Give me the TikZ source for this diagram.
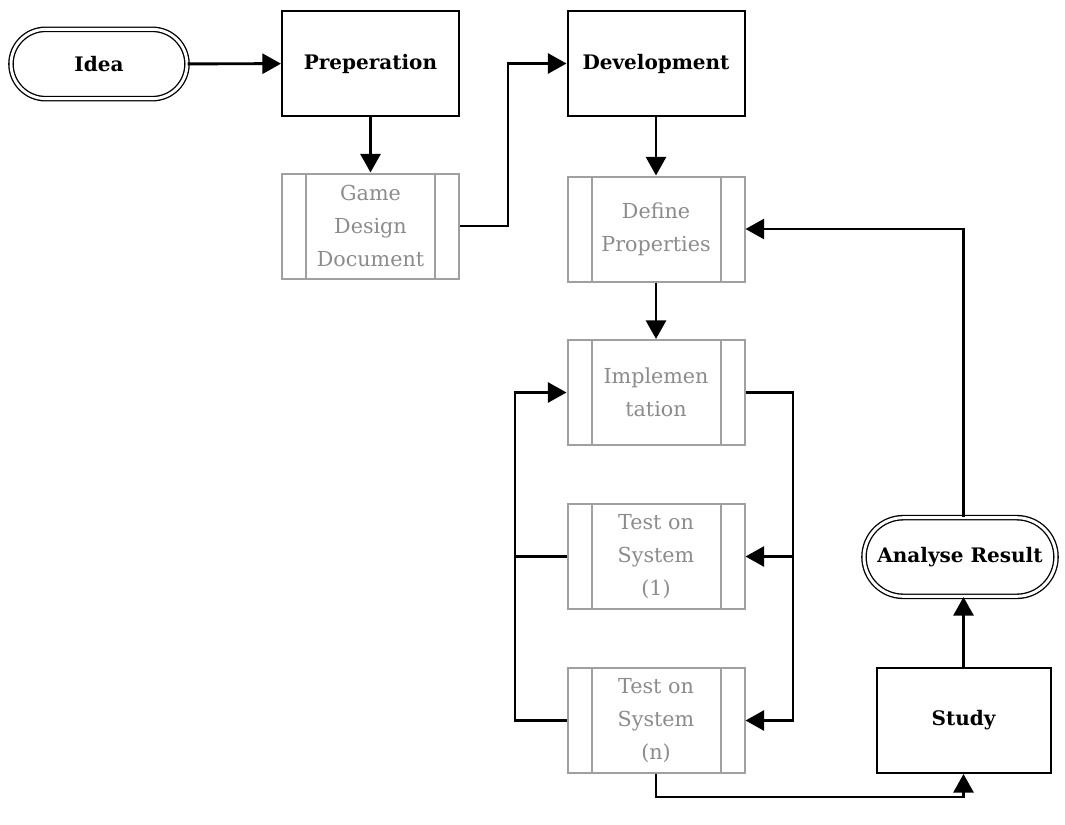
\documentclass[tikz,border=0pt]{standalone}
\usepackage{fontspec}
\setmainfont{DejaVu Serif}
\usetikzlibrary{arrows.meta,shapes.misc}
\definecolor{boxgray}{HTML}{A0A0A0}
\definecolor{textgray}{HTML}{8C8C8C}
\tikzset{
  base/.style={align=center, inner sep=0pt},
  procbox/.style={base, rectangle, draw=black, line width=1.5pt,
    minimum width=132.75pt, minimum height=78.75pt, font=\fontsize{15pt}{25pt}\selectfont\bfseries},
  subproc/.style={base, rectangle, draw=boxgray, line width=1.5pt, text=textgray,
    minimum width=132.75pt, minimum height=78.75pt, font=\fontsize{15.5pt}{25pt}\selectfont,
    path picture={
      \draw[boxgray, line width=1.5pt]
        ([xshift=18pt]path picture bounding box.north west) -- ([xshift=18pt]path picture bounding box.south west)
        ([xshift=-18pt]path picture bounding box.north east) -- ([xshift=-18pt]path picture bounding box.south east);
    }},
  terminal/.style={base, rounded rectangle, draw=black, line width=1pt, double=white, double distance=2.2pt,
    font=\fontsize{15pt}{25pt}\selectfont\bfseries},
  flow/.style={line width=2.2pt, -{Triangle[length=14pt,width=15pt]}},
  line/.style={line width=2.2pt},
}
\begin{document}
\begin{tikzpicture}[x=0.75pt,y=-0.75pt]
\useasboundingbox (0,0) rectangle (1065,825);
\fill[white] (0,0) rectangle (1065,825);

% terminals and process boxes
\node[terminal, minimum width=132pt, minimum height=52pt] (idea) at (99,64) {Idea};
\node[procbox] (prep) at (370.5,63.5) {Preperation};
\node[procbox] (dev) at (656,63.5) {Development};
\node[subproc] (gdd) at (370.5,226) {Game\\Design\\Document};
\node[subproc] (def) at (656,229) {Define\\Properties};
\node[subproc] (impl) at (656,392.5) {Implemen\\tation};
\node[subproc] (test1) at (656,556.5) {Test on\\System\\(1)};
\node[subproc] (testn) at (656,720.5) {Test on\\System\\(n)};
\node[procbox, minimum width=130.5pt] (study) at (963.5,720.5) {Study};
\node[terminal, minimum width=144pt, minimum height=59pt] (ana) at (960,557) {Analyse Result};

% bend points of the connectors
\coordinate (gddturn) at (508,0);
\coordinate (implbus) at (793,0);
\coordinate (testbus) at (515,0);
\coordinate (bottom) at (0,797);

\draw[flow] (idea) -- (prep);
\draw[flow] (prep) -- (gdd);
\draw[flow] (gdd.east) -| (gddturn |- gdd.east) |- (dev.west);
\draw[flow] (dev) -- (def);
\draw[flow] (def) -- (impl);
\draw[flow] (impl.east) -| (implbus |- test1.east) -- (test1.east);
\draw[flow] (implbus |- test1.east) |- (testn.east);
\draw[line] (test1.west) -| (testbus |- test1.west);
\draw[flow] (testn.west) -| (testbus |- impl.west) -- (impl.west);
\draw[flow] (testn.south) |- (bottom -| study.south) -- (study.south);
\draw[flow] (study.north) -- (study.north |- ana.south);
\draw[flow] (study.north |- ana.north) |- (def.east);
\end{tikzpicture}
\end{document}
